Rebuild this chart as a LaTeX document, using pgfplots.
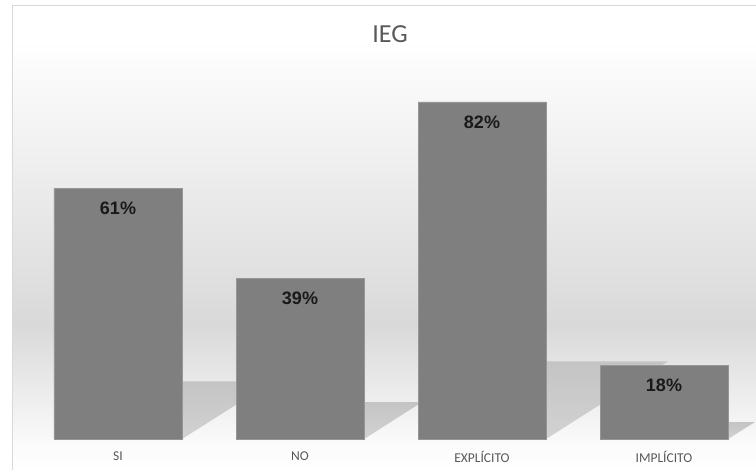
\documentclass[border=0pt]{standalone}
\usepackage{pgfplots}
\pgfplotsset{compat=1.18}
\usepackage{fontspec}
\setmainfont{Carlito}
\newfontfamily\valuefont{Liberation Sans}

\definecolor{barfill}{HTML}{7F7F7F}
\definecolor{baredge}{HTML}{969696}
\definecolor{shadowtop}{HTML}{C4C4C4}
\definecolor{shadowbot}{HTML}{D2D2D2}
\definecolor{textgray}{HTML}{595959}
\definecolor{framegray}{HTML}{D9D9D9}
\definecolor{bgmid}{HTML}{D9D9D9}
\definecolor{bglow}{HTML}{FBFBFB}

\begin{document}
\begin{tikzpicture}
  \path[use as bounding box] (0bp,0bp) rectangle (756bp,470bp);
  % chart area background: soft vertical gradient
  \fill[white] (12bp,430bp) rectangle (756bp,464bp);
  \shade[top color=white, bottom color=bgmid, draw=none] (12bp,145bp) rectangle (756bp,430bp);
  \shade[top color=bgmid, bottom color=bglow, draw=none] (12bp,25bp) rectangle (756bp,145bp);
  \shade[top color=bglow, bottom color=white, draw=none] (12bp,0bp) rectangle (756bp,25bp);
  % chart area border
  \draw[framegray, line width=1bp] (12bp,0bp) -- (12bp,464bp) -- (756bp,464bp);

  \begin{axis}[
    at={(27bp,31bp)}, anchor=south west,
    scale only axis, width=728bp, height=411bp,
    xmin=-0.5, xmax=3.5, ymin=0, ymax=100,
    hide y axis,
    axis x line*=bottom,
    x axis line style={draw=none},
    major tick length=0pt,
    xtick={0,1,2,3},
    xticklabels={SI,NO,EXPLÍCITO,IMPLÍCITO},
    xticklabel style={font=\fontsize{13.5bp}{15bp}\selectfont, text=textgray, yshift=-9bp},
    clip=false,
  ]
    % floor shadows cast behind each bar
    \addplot[forget plot, mark=none, draw=none, top color=shadowtop, bottom color=shadowbot]
      coordinates {(-0.352,0) (0.352,0) (0.850,14.0) (0.146,14.0)} --cycle;
    \addplot[forget plot, mark=none, draw=none, top color=shadowtop, bottom color=shadowbot]
      coordinates {(0.648,0) (1.352,0) (1.671,9.0) (0.967,9.0)} --cycle;
    \addplot[forget plot, mark=none, draw=none, top color=shadowtop, bottom color=shadowbot]
      coordinates {(1.648,0) (2.352,0) (3.022,18.9) (2.318,18.9)} --cycle;
    \addplot[forget plot, mark=none, draw=none, top color=shadowtop, bottom color=shadowbot]
      coordinates {(2.648,0) (3.352,0) (3.499,4.1) (2.795,4.1)} --cycle;

    % bars
    \addplot[ybar, bar width=128bp, bar shift=0pt,
      fill=barfill, draw=baredge, line width=0.6bp,
      nodes near coords={\pgfmathprintnumber[assume math mode=true]{\pgfplotspointmeta}\%},
      every node near coord/.append style={
        anchor=center, yshift=-20bp, text=black!90,
        font=\valuefont\bfseries\fontsize{18bp}{20bp}\selectfont},
    ] coordinates {(0,61) (1,39) (2,82) (3,18)};
  \end{axis}

  % title
  \node[text=textgray, font=\fontsize{26bp}{30bp}\selectfont] at (390bp,436bp) {IEG};
\end{tikzpicture}
\end{document}
